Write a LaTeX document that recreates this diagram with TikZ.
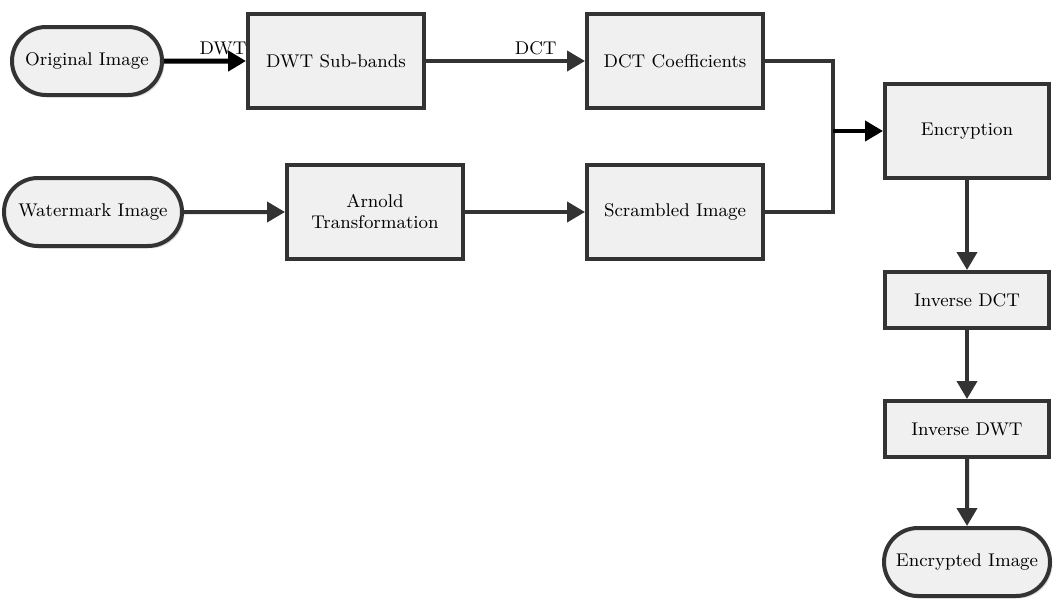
\documentclass[tikz,border=0pt]{standalone}
\usepackage{tikz}
\usetikzlibrary{shapes.misc,shadows,arrows.meta}

\begin{document}
\begin{tikzpicture}[%
					x=0.5pt, y=-0.5pt,
					every node/.style={%
						align=center,
						font=\fontsize{9.2}{10.5}\selectfont
					},
					block/.style={%
						draw=black!80,
						line width=2pt,
						fill=black!6,
						inner sep=1pt,
						drop shadow={shadow xshift=1.2pt, shadow yshift=-1.2pt, opacity=0.25}
					},
					process/.style={block, rectangle, minimum width=88pt, minimum height=47pt},
					small process/.style={block, rectangle, minimum width=82pt, minimum height=28pt},
					terminal/.style={block, rounded rectangle, minimum height=34pt},
					flow/.style={draw=black!80, line width=2pt, -{Triangle[length=9pt, width=10pt]}},
					arrowtext/.style={above, inner sep=2pt}
				]

				\useasboundingbox (0, 0) rectangle (1058, 611);

				% top row
				\node[terminal, minimum width=77pt] (original) at (87, 61) {Original Image};
				\node[process] (subbands) at (336, 61) {DWT Sub-bands};
				\node[process] (coeffs) at (675, 61) {DCT Coefficients};

				% bottom row
				\node[terminal, minimum width=89pt, inner xsep=0pt] (watermark) at (93, 212) {Watermark Image};
				\node[process] (arnold) at (375, 212) {Arnold\\Transformation};
				\node[process] (scrambled) at (675, 212) {Scrambled Image};

				% right column
				\node[process, minimum width=82pt] (encryption) at (967, 131) {Encryption};
				\node[small process] (idct) at (967, 300) {Inverse DCT};
				\node[small process] (idwt) at (967, 429) {Inverse DWT};
				\node[terminal, minimum width=85pt] (encrypted) at (967, 562) {Encrypted Image};

				\coordinate (join) at (833, 131);

				\draw[flow, draw=black, line width=2.5pt] (original) -- node[arrowtext, pos=0.72] {DWT} (subbands);
				\draw[flow] (subbands) -- node[arrowtext, pos=0.69] {DCT} (coeffs);
				\draw[flow] (watermark) -- (arnold);
				\draw[flow] (arnold) -- (scrambled);
				\draw[draw=black!80, line width=2pt] (coeffs.east) -| (join);
				\draw[draw=black!80, line width=2pt] (scrambled.east) -| (join);
				\draw[flow, draw=black] (join) -- (encryption);
				\draw[flow] (encryption) -- (idct);
				\draw[flow] (idct) -- (idwt);
				\draw[flow] (idwt) -- (encrypted);
			\end{tikzpicture}
\end{document}
